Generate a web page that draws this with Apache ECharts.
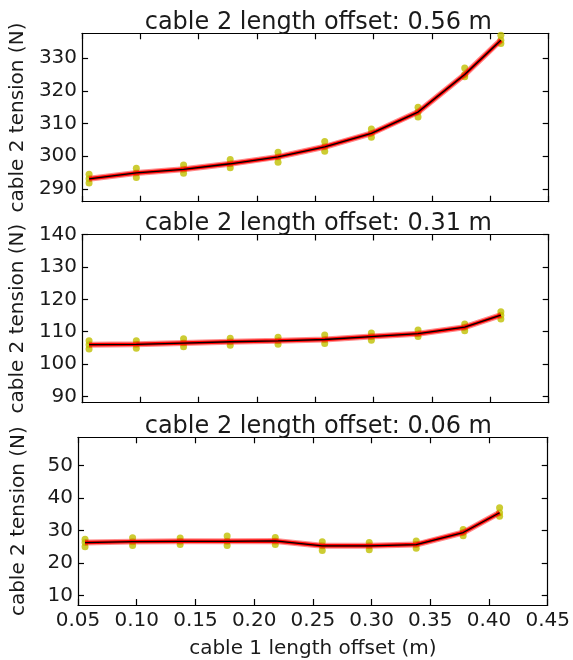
<!DOCTYPE html>
<html><head><meta charset="utf-8">
<script src="https://cdn.jsdelivr.net/npm/echarts@6/dist/echarts.min.js"></script>
<style>html,body{margin:0;padding:0;background:#fff}#c{width:573px;height:660px}</style>
</head><body><div id="c"></div>
<script>
// ---- data ----
const xVals = [0.056, 0.0965, 0.137, 0.177, 0.218, 0.258, 0.298, 0.338, 0.378, 0.409];
const titles = ['cable 2 length offset: 0.56 m', 'cable 2 length offset: 0.31 m', 'cable 2 length offset: 0.06 m'];
const xTicks = [0.05, 0.10, 0.15, 0.20, 0.25, 0.30, 0.35, 0.40, 0.45];

const mean056 = [293.1, 294.9, 296.0, 297.7, 299.8, 302.9, 307.0, 313.5, 325.0, 335.5];
const low056  = [291.8, 293.5, 294.8, 296.5, 298.2, 301.5, 305.8, 312.0, 324.3, 334.5];
const high056 = [294.5, 296.3, 297.3, 299.0, 301.2, 304.5, 308.3, 315.0, 327.0, 337.0];
const yTicks056 = [290, 300, 310, 320, 330];
const yRange056 = [286.1, 337.6];

const mean031 = [106.0, 106.1, 106.5, 106.9, 107.2, 107.6, 108.5, 109.4, 111.4, 115.1];
const low031  = [104.7, 104.9, 105.4, 105.8, 106.1, 106.4, 107.4, 108.5, 110.3, 113.9];
const high031 = [107.2, 107.2, 107.8, 108.0, 108.3, 109.0, 109.6, 110.5, 112.4, 116.2];
const yTicks031 = [90, 100, 110, 120, 130, 140];
const yRange031 = [88.1, 140];

const mean006 = [26.3, 26.6, 26.7, 26.7, 26.8, 25.3, 25.3, 25.7, 29.4, 35.5];
const low006  = [25.0, 25.4, 25.7, 25.4, 25.7, 23.9, 24.1, 24.6, 28.4, 34.4];
const high006 = [27.3, 27.8, 27.7, 28.3, 27.9, 26.6, 26.3, 26.8, 30.3, 37.0];
const yTicks006 = [10, 20, 30, 40, 50];
const yRange006 = [7.1, 58.7];

const yLabel = 'cable 2 tension (N)';
const xLabel = 'cable 1 length offset (m)';

// ---- build ----
const panels = [
  {mean: mean056, low: low056, high: high056, ticks: yTicks056, range: yRange056, top: 33.3, h: 168.4},
  {mean: mean031, low: low031, high: high031, ticks: yTicks031, range: yRange031, top: 234.5, h: 168.2},
  {mean: mean006, low: low006, high: high006, ticks: yTicks006, range: yRange006, top: 437.3, h: 167.7}
];
const FONT = 'DejaVu Sans';
const TXT = '#1a1a1a';
const L = 78, RX = 548.7, R = 573 - RX;

const grid = [], xAxis = [], yAxis = [], series = [], title = [];
panels.forEach((p, i) => {
  grid.push({left: L, right: R, top: p.top, height: p.h, containLabel: false});
  const last = i === panels.length - 1;
  const lineStyle = {color: '#000', width: 1.2};
  xAxis.push({
    type: 'value', gridIndex: i, position: 'bottom', min: 0.05, max: 0.45,
    axisLine: {show: true, onZero: false, lineStyle},
    axisTick: {show: true, inside: true, length: 6, lineStyle, customValues: xTicks},
    axisLabel: {show: last, customValues: xTicks, formatter: v => v.toFixed(2), color: TXT, fontFamily: FONT, fontSize: 20, margin: 6},
    splitLine: {show: false},
    name: last ? xLabel : '', nameLocation: 'middle', nameGap: 34,
    nameTextStyle: {color: TXT, fontFamily: FONT, fontSize: 20}
  });
  xAxis.push({
    type: 'value', gridIndex: i, position: 'top', min: 0.05, max: 0.45,
    axisLine: {show: true, onZero: false, lineStyle},
    axisTick: {show: true, inside: true, length: 6, lineStyle, customValues: xTicks},
    axisLabel: {show: false}, splitLine: {show: false}
  });
  yAxis.push({
    type: 'value', gridIndex: i, position: 'left', min: p.range[0], max: p.range[1],
    axisLine: {show: true, onZero: false, lineStyle},
    axisTick: {show: true, inside: true, length: 6, lineStyle, customValues: p.ticks},
    axisLabel: {show: true, customValues: p.ticks, color: TXT, fontFamily: FONT, fontSize: 20, margin: 5},
    splitLine: {show: false},
    name: yLabel, nameLocation: 'middle', nameGap: 49,
    nameTextStyle: {color: TXT, fontFamily: FONT, fontSize: 20}
  });
  yAxis.push({
    type: 'value', gridIndex: i, position: 'right', min: p.range[0], max: p.range[1],
    axisLine: {show: true, onZero: false, lineStyle},
    axisTick: {show: true, inside: true, length: 6, lineStyle, customValues: p.ticks},
    axisLabel: {show: false}, splitLine: {show: false}
  });
  const pts = [];
  xVals.forEach((x, k) => {
    pts.push([x, p.low[k]]); pts.push([x, p.mean[k]]); pts.push([x, p.high[k]]);
  });
  series.push({
    type: 'scatter', xAxisIndex: 2 * i, yAxisIndex: 2 * i, data: pts,
    symbol: 'circle', symbolSize: 7, itemStyle: {color: '#bfbf00'}, silent: true, z: 2
  });
  const line = xVals.map((x, k) => [x, p.mean[k]]);
  series.push({
    type: 'line', xAxisIndex: 2 * i, yAxisIndex: 2 * i, data: line, showSymbol: false,
    lineStyle: {color: 'rgba(255,0,0,0.45)', width: 6}, silent: true, z: 3
  });
  series.push({
    type: 'line', xAxisIndex: 2 * i, yAxisIndex: 2 * i, data: line, showSymbol: false,
    lineStyle: {color: '#ff0000', width: 3.5}, silent: true, z: 4
  });
  series.push({
    type: 'line', xAxisIndex: 2 * i, yAxisIndex: 2 * i, data: line, showSymbol: false,
    lineStyle: {color: '#000', width: 1.3}, silent: true, z: 5
  });
  title.push({
    text: titles[i], left: (L + RX) / 2, textAlign: 'center', top: p.top - 28,
    textStyle: {color: TXT, fontFamily: FONT, fontSize: 24, fontWeight: 'normal'}
  });
});

const chart = echarts.init(document.getElementById('c'), null, {renderer: 'canvas'});
chart.setOption({animation: false, backgroundColor: '#fff', title, grid, xAxis, yAxis, series});
</script></body></html>
